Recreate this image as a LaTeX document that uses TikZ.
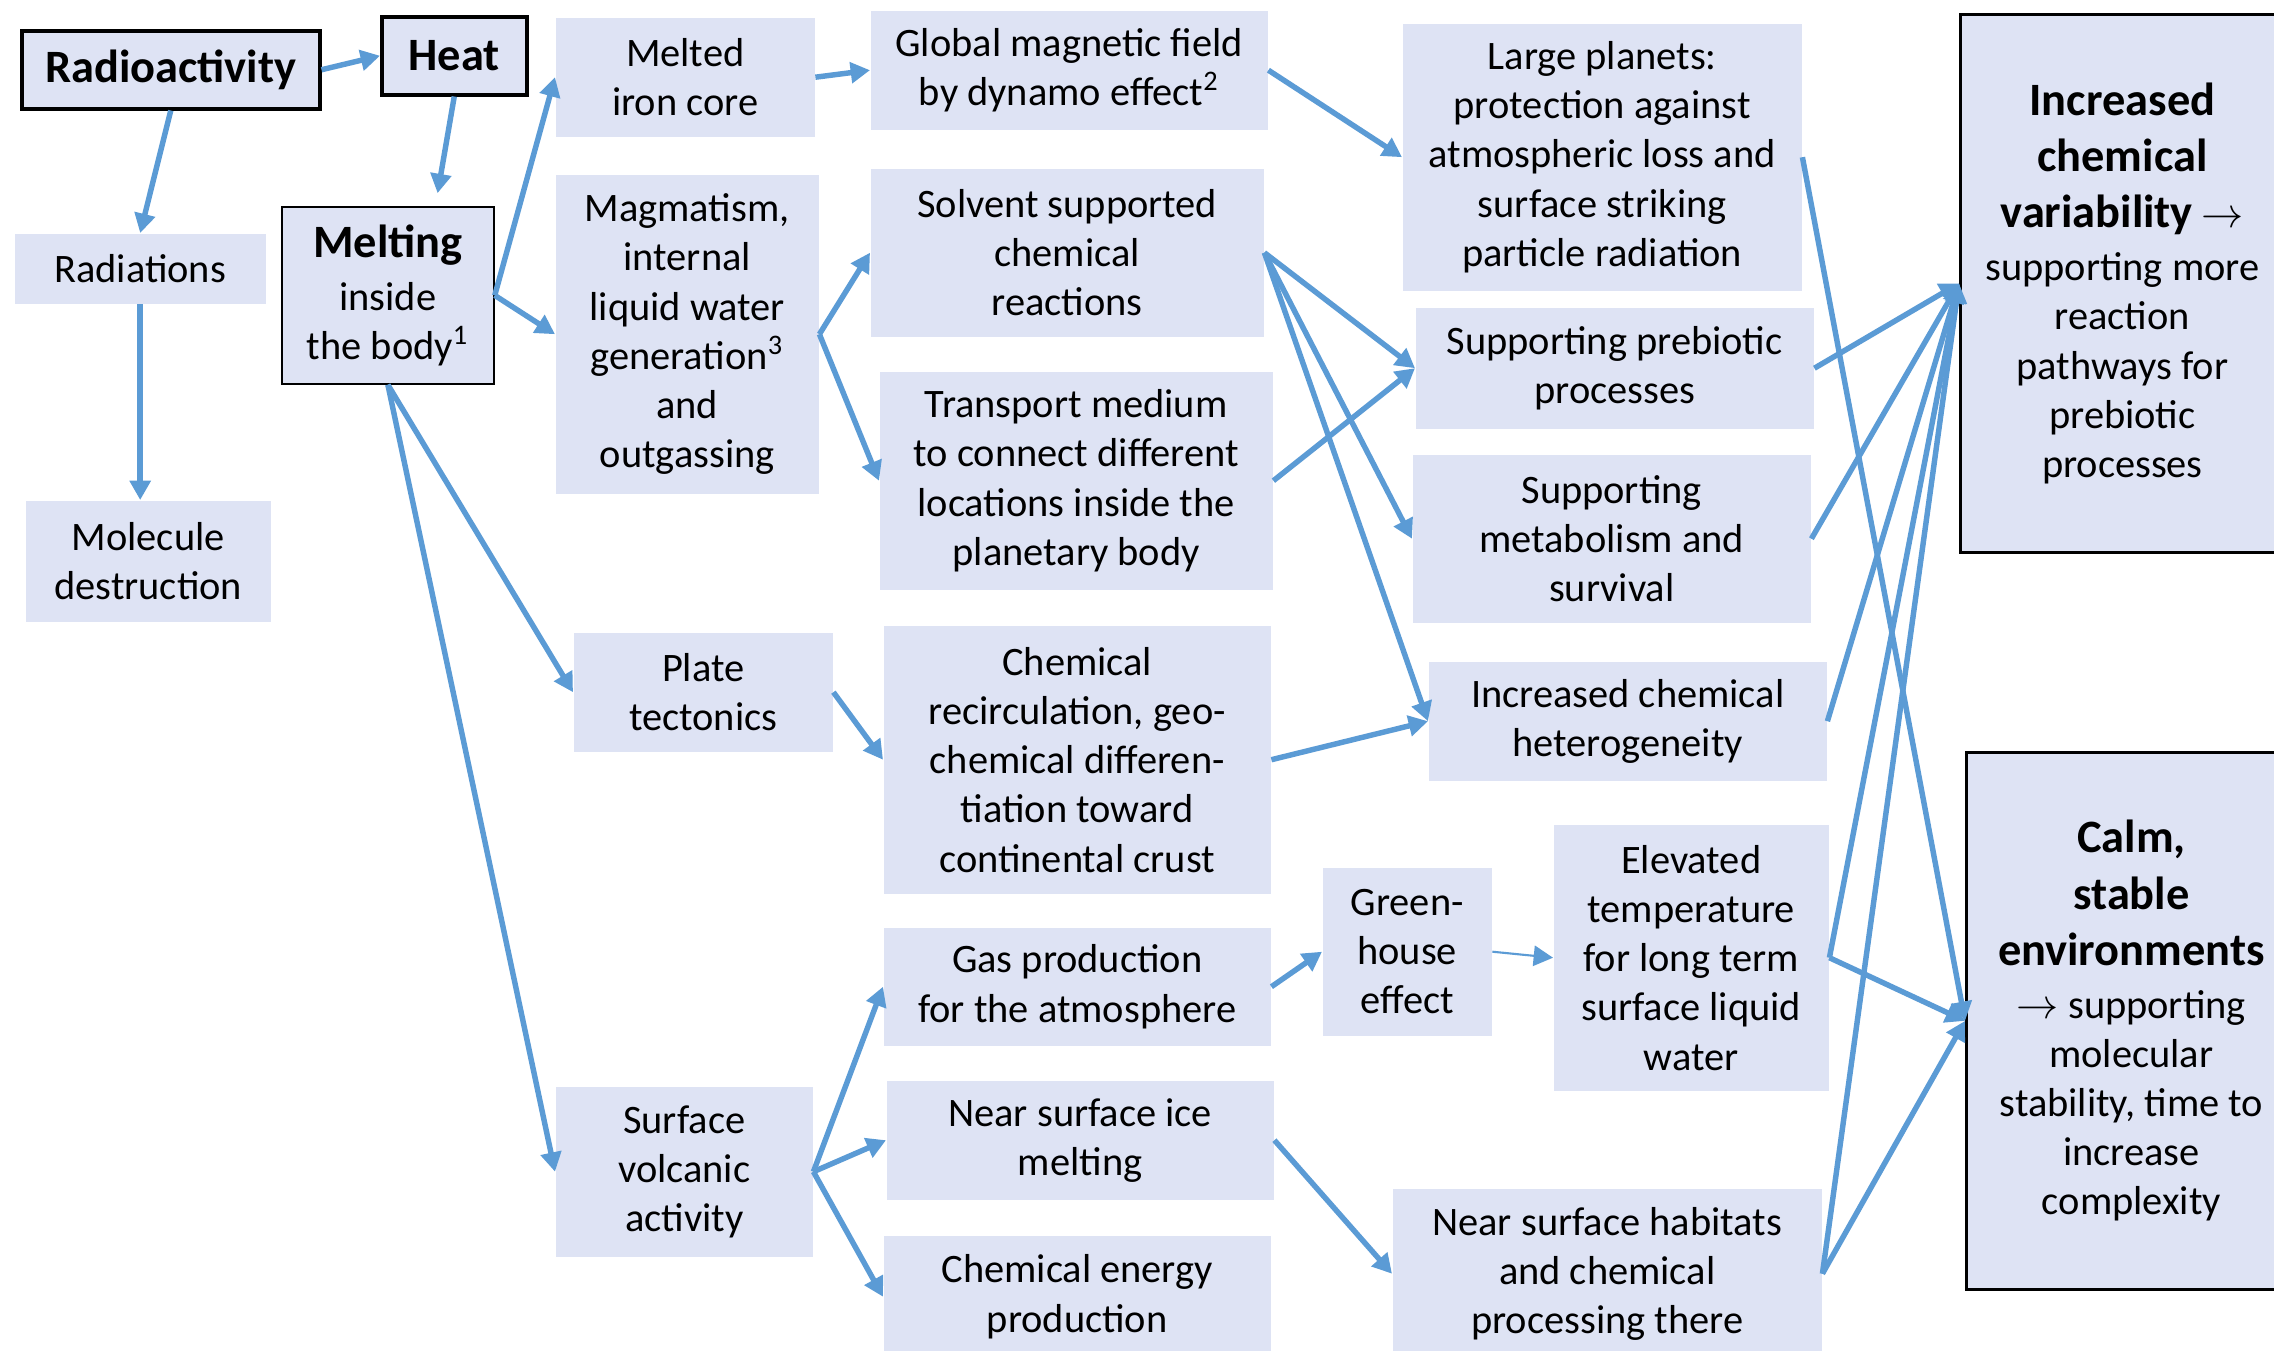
\documentclass[tikz,border=0pt]{standalone}
\usepackage{fontspec}
\setmainfont{Carlito}
\usetikzlibrary{arrows.meta}

\definecolor{cellfill}{RGB}{222,227,244}
\definecolor{flowblue}{RGB}{91,155,213}
\newcommand{\cellfont}{\fontsize{11.5}{14}\selectfont}
\newcommand{\keyfont}{\fontsize{13.2}{16}\selectfont\bfseries}

\tikzset{
  cell/.style 2 args={fill=cellfill, anchor=north west, inner sep=0pt, align=center,
    minimum width=#1cm, minimum height=#2cm, font=\cellfont},
  keycell/.style={draw=black, line width=#1},
  flow/.style={draw=flowblue, line width=1.55pt, -{Triangle[length=5.5pt,width=5.8pt]}},
}

\begin{document}
\begin{tikzpicture}[y=-1cm]
  \useasboundingbox[fill=white] (0,0) rectangle (22.74,13.51);

  % sources on the left
  \node[cell={2.98}{0.78}, keycell=1pt] (radio) at (0.20,0.29) {\keyfont Radioactivity};
  \node[cell={1.45}{0.78}, keycell=1pt] (heat) at (3.80,0.15) {\keyfont Heat};
  \node[cell={2.51}{0.70}] (radiat) at (0.14,2.33) {Radiations};
  \node[cell={2.12}{1.77}, keycell=0.5pt] (melt) at (2.81,2.06)
    {{\keyfont Melting}\\[1pt]inside\\the body\textsuperscript{1}};
  \node[cell={2.45}{1.21}] (moldes) at (0.25,5.00) {Molecule\\destruction};

  % processes driven by melting
  \node[cell={2.59}{1.19}] (iron) at (5.55,0.17) {Melted\\iron core};
  \node[cell={2.63}{3.19}] (magma) at (5.55,1.74)
    {Magmatism,\\internal\\liquid water\\generation\textsuperscript{3}\\and\\outgassing};
  \node[cell={2.59}{1.19}] (plate) at (5.73,6.32) {Plate\\tectonics};
  \node[cell={2.57}{1.70}] (volc) at (5.55,10.86) {Surface\\volcanic\\activity};

  % their direct effects
  \node[cell={3.97}{1.19}] (dynamo) at (8.70,0.10)
    {Global magnetic field\\by dynamo effect\textsuperscript{2}};
  \node[cell={3.93}{1.68}] (solvent) at (8.70,1.68) {Solvent supported\\chemical\\reactions};
  \node[cell={3.93}{2.18}] (transp) at (8.79,3.71)
    {Transport medium\\to connect different\\locations inside the\\planetary body};
  \node[cell={3.87}{2.68}] (recirc) at (8.83,6.25)
    {Chemical\\recirculation, geo-\\chemical differen-\\tiation toward\\continental crust};
  \node[cell={3.87}{1.18}] (gas) at (8.83,9.27) {Gas production\\for the atmosphere};
  \node[cell={3.87}{1.19}] (ice) at (8.86,10.80) {Near surface ice\\melting};
  \node[cell={3.87}{1.22}] (energy) at (8.83,12.35) {Chemical energy\\production};
  \node[cell={1.69}{1.68}] (green) at (13.22,8.67) {Green-\\house\\effect};

  % conditions for prebiotic chemistry
  \node[cell={3.99}{2.67}] (large) at (14.02,0.23)
    {Large planets:\\protection against\\atmospheric loss and\\surface striking\\particle radiation};
  \node[cell={3.98}{1.21}] (prebio) at (14.15,3.07) {Supporting prebiotic\\processes};
  \node[cell={3.98}{1.68}] (metab) at (14.12,4.54) {Supporting\\metabolism and\\survival};
  \node[cell={3.98}{1.19}] (hetero) at (14.28,6.61) {Increased chemical\\heterogeneity};
  \node[cell={2.75}{2.66}] (elev) at (15.53,8.24)
    {Elevated\\temperature\\for long term\\surface liquid\\water};
  \node[cell={4.29}{1.70}] (habit) at (13.92,11.88)
    {Near surface habitats\\and chemical\\processing there};

  % outcomes
  \node[cell={3.24}{5.38}, keycell=0.8pt] (vari) at (19.59,0.13)
    {{\keyfont Increased}\\[2pt]{\keyfont chemical}\\[2pt]{\keyfont variability} $\rightarrow$\\[1pt]
     supporting more\\reaction\\pathways for\\prebiotic\\processes};
  \node[cell={3.30}{5.37}, keycell=0.8pt] (calm) at (19.65,7.51)
    {{\keyfont Calm,}\\[2pt]{\keyfont stable}\\[2pt]{\keyfont environments}\\[1pt]
     $\rightarrow$ supporting\\molecular\\stability, time to\\increase\\complexity};

  % connectors
  \draw[flow] (radio.east) -- (heat.west);
  \draw[flow] (radio.south) -- (radiat.north);
  \draw[flow, shorten >=0.13cm] (heat.south) -- (melt.62);
  \draw[flow] (radiat.south) -- (radiat.south |- moldes.north);
  \draw[flow] (melt.east) -- (iron.west);
  \draw[flow] (melt.east) -- (magma.west);
  \draw[flow] (melt.south) -- (plate.west);
  \draw[flow] (melt.south) -- (volc.west);
  \draw[flow] (iron.east) -- (dynamo.west);
  \draw[flow] (dynamo.east) -- (large.west);
  \draw[flow] (magma.east) -- (solvent.west);
  \draw[flow] (magma.east) -- (transp.west);
  \draw[flow] (solvent.east) -- (prebio.west);
  \draw[flow] (solvent.east) -- (metab.west);
  \draw[flow] (solvent.east) -- (hetero.west);
  \draw[flow] (transp.east) -- (prebio.west);
  \draw[flow] (plate.east) -- (recirc.west);
  \draw[flow] (recirc.east) -- (hetero.west);
  \draw[flow] (volc.east) -- (gas.west);
  \draw[flow] (volc.east) -- (ice.west);
  \draw[flow] (volc.east) -- (energy.west);
  \draw[flow] (gas.east) -- (green.west);
  \draw[flow, line width=0.6pt] (green.east) -- (elev.west);
  \draw[flow] (ice.east) -- (habit.west);
  \draw[flow] (large.east) -- (calm.west);
  \foreach \src in {prebio, metab, hetero, elev, habit}
    \draw[flow] (\src.east) -- (vari.west);
  \draw[flow] (elev.east) -- (calm.west);
  \draw[flow] (habit.east) -- (calm.west);
\end{tikzpicture}
\end{document}
